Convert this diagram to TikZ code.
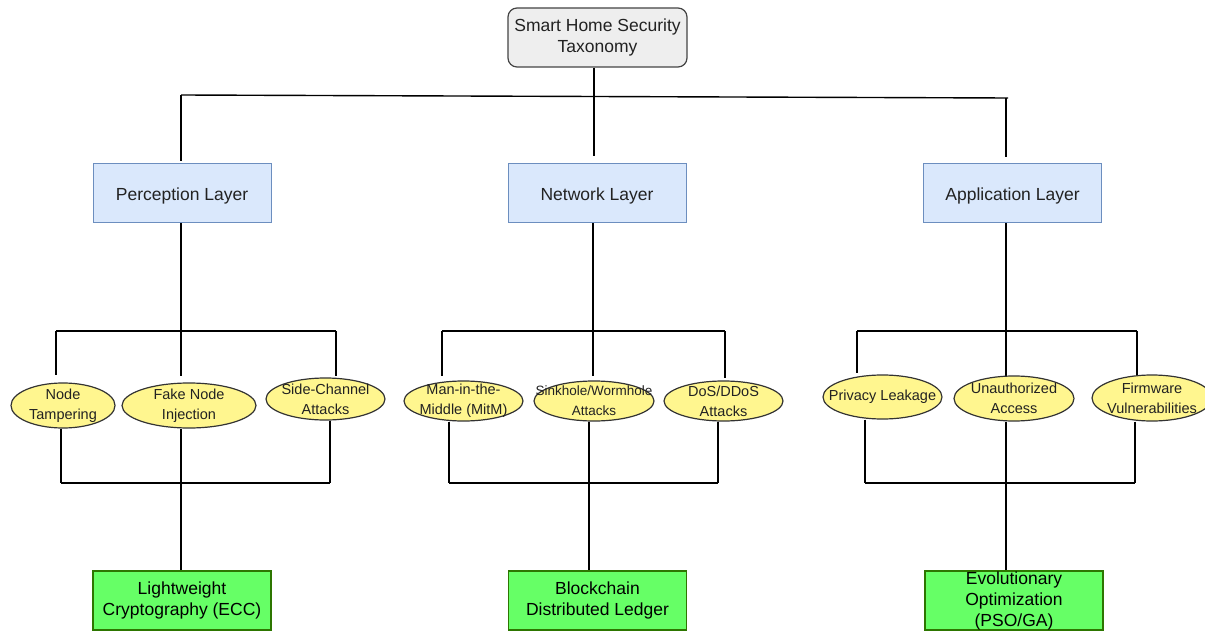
\documentclass[tikz,border=0pt]{standalone}
\usepackage{fontspec}
\setmainfont{Liberation Sans}
\usetikzlibrary{shapes.geometric}
\definecolor{rootfill}{HTML}{EEEEEE}
\definecolor{rootdraw}{HTML}{444444}
\definecolor{layerfill}{HTML}{DAE8FC}
\definecolor{layerdraw}{HTML}{6C8EBF}
\definecolor{attfill}{HTML}{FFF68F}
\definecolor{attdraw}{HTML}{333333}
\definecolor{solfill}{HTML}{66FF66}
\definecolor{soldraw}{HTML}{2D7600}
\definecolor{txt}{HTML}{222222}
\tikzset{
  rootbox/.style={draw=rootdraw, fill=rootfill, line width=1.2pt, rounded corners=9pt,
    minimum width=179pt, minimum height=59pt, inner sep=0pt},
  layerbox/.style={draw=layerdraw, fill=layerfill, line width=1pt,
    minimum width=178pt, minimum height=59pt, inner sep=0pt},
  attell/.style={ellipse, draw=attdraw, fill=attfill, line width=1.2pt, inner sep=0pt},
  solbox/.style={draw=soldraw, fill=solfill, line width=1.2pt,
    minimum width=178pt, minimum height=59pt, inner sep=0pt},
  bigtxt/.style={text=txt, align=center, font=\fontsize{17.5}{21}\selectfont, inner sep=0pt},
  smalltxt/.style={text=txt, align=center, font=\fontsize{14.5}{20}\selectfont, inner sep=0pt},
  soltxt/.style={text=black, align=center, font=\fontsize{17.5}{21}\selectfont, inner sep=0pt},
  conn/.style={line width=1.4pt, black},
}
\begin{document}
\begin{tikzpicture}[x=1pt,y=-1pt]
\useasboundingbox (0,0) rectangle (1205,631);

% connectors first (behind shapes)
\coordinate (tbl) at (181,95);
\coordinate (tbr) at (1008,98);
\coordinate (rootend) at (594,156);
\coordinate (perin) at (181,161);
\coordinate (appin) at (1006,157);

% perception group coordinates
\coordinate (pbl) at (56,331);
\coordinate (pbr) at (336,331);
\coordinate (pdl) at (56,375);
\coordinate (pdm) at (181,376);
\coordinate (pdr) at (336,376);
\coordinate (plbl) at (61,483);
\coordinate (plbr) at (330,483);
% network group
\coordinate (nbl) at (442,331);
\coordinate (nbr) at (725,331);
\coordinate (ndl) at (442,376);
\coordinate (ndm) at (593,376);
\coordinate (ndr) at (725,378);
\coordinate (nlbl) at (449,483);
\coordinate (nlbr) at (718,483);
% application group
\coordinate (abl) at (857,331);
\coordinate (abr) at (1137,331);
\coordinate (adl) at (857,373);
\coordinate (adm) at (1006,376);
\coordinate (adr) at (1137,376);
\coordinate (albl) at (865,483);
\coordinate (albr) at (1135,483);

% nodes
\node[rootbox] (root) at (597.5,37.5) {};
\node[bigtxt] (roottxt) at (root.center) {Smart Home Security\\Taxonomy};

\node[layerbox] (per) at (182,193.5) {};
\node[bigtxt] (pertxt) at ([yshift=-2.5pt]per.center) {Perception Layer};
\node[layerbox] (net) at (597,193.5) {};
\node[bigtxt] (nettxt) at ([yshift=-2.5pt]net.center) {Network Layer};
\node[layerbox] (app) at (1012.5,193.5) {};
\node[bigtxt] (apptxt) at ([yshift=-2.5pt]app.center) {Application Layer};

\node[solbox] (sol1) at (182,600.5) {};
\node[solbox] (sol2) at (597.5,600.5) {};
\node[solbox] (sol3) at (1014,600.5) {};

% connectors
\draw[conn] (tbl) -- (tbr);
\draw[conn] (root.south -| rootend) -- (rootend);
\draw[conn] (tbl) -- (perin);
\draw[conn] (tbr -| appin) -- (appin);

\draw[conn] (per.south -| pdm) -- (pdm);
\draw[conn] (pbl) -- (pbr);
\draw[conn] (pbl) -- (pdl);
\draw[conn] (pbr) -- (pdr);

\draw[conn] (net.south -| ndm) -- (ndm);
\draw[conn] (nbl) -- (nbr);
\draw[conn] (nbl) -- (ndl);
\draw[conn] (nbr) -- (ndr);

\draw[conn] (app.south -| adm) -- (adm);
\draw[conn] (abl) -- (abr);
\draw[conn] (abl) -- (adl);
\draw[conn] (abr) -- (adr);

% ellipses
\node[attell, minimum width=104pt, minimum height=45pt] (a1) at (63,405.5) {};
\node[attell, minimum width=134pt, minimum height=45pt] (a2) at (189,405.5) {};
\node[attell, minimum width=119pt, minimum height=42pt] (a3) at (325.5,399) {};
\node[attell, minimum width=119pt, minimum height=40pt] (b1) at (463.5,401) {};
\node[attell, minimum width=120pt, minimum height=40pt] (b2) at (594,401) {};
\node[attell, minimum width=119pt, minimum height=40pt] (b3) at (723.5,401) {};
\node[attell, minimum width=119pt, minimum height=44pt] (c1) at (882.5,397) {};
\node[attell, minimum width=120pt, minimum height=45pt] (c2) at (1014,398.5) {};
\node[attell, minimum width=120pt, minimum height=46pt] (c3) at (1152,398) {};

\node[smalltxt] (a1t) at (a1.center) {Node\\Tampering};
\node[smalltxt] (a2t) at (a2.center) {Fake Node\\Injection};
\node[smalltxt] (a3t) at (a3.center) {Side-Channel\\Attacks};
\node[smalltxt] (b1t) at (b1.center) {Man-in-the-\\Middle (MitM)};
\node[smalltxt, font=\fontsize{13.5}{20}\selectfont] (b2t) at (b2.center) {Sinkhole/Wormhole\\Attacks};
\node[smalltxt] (b3t) at (b3.center) {DoS/DDoS\\Attacks};
\node[smalltxt] (c1t) at (c1.center) {Privacy Leakage};
\node[smalltxt] (c2t) at (c2.center) {Unauthorized\\Access};
\node[smalltxt] (c3t) at (c3.center) {Firmware\\Vulnerabilities};

% lower connectors
\draw[conn] (a1.south -| plbl) -- (plbl);
\draw[conn] (a3.south -| plbr) -- (plbr);
\draw[conn] (plbl) -- (plbr);
\draw[conn] (a2.south -| pdm) -- (sol1.north -| pdm);

\draw[conn] (b1.south -| nlbl) -- (nlbl);
\draw[conn] (b3.south -| nlbr) -- (nlbr);
\draw[conn] (nlbl) -- (nlbr);
\draw[conn] (b2.south -| 589,0) -- (sol2.north -| 589,0);

\draw[conn] (c1.south -| albl) -- (albl);
\draw[conn] (c3.south -| albr) -- (albr);
\draw[conn] (albl) -- (albr);
\draw[conn] (c2.south -| adm) -- (sol3.north -| adm);

\node[soltxt] (s1t) at (sol1.center) {Lightweight\\Cryptography (ECC)};
\node[soltxt] (s2t) at (sol2.center) {Blockchain\\Distributed Ledger};
\node[soltxt] (s3t) at (sol3.center) {Evolutionary\\Optimization\\(PSO/GA)};
\end{tikzpicture}
\end{document}
